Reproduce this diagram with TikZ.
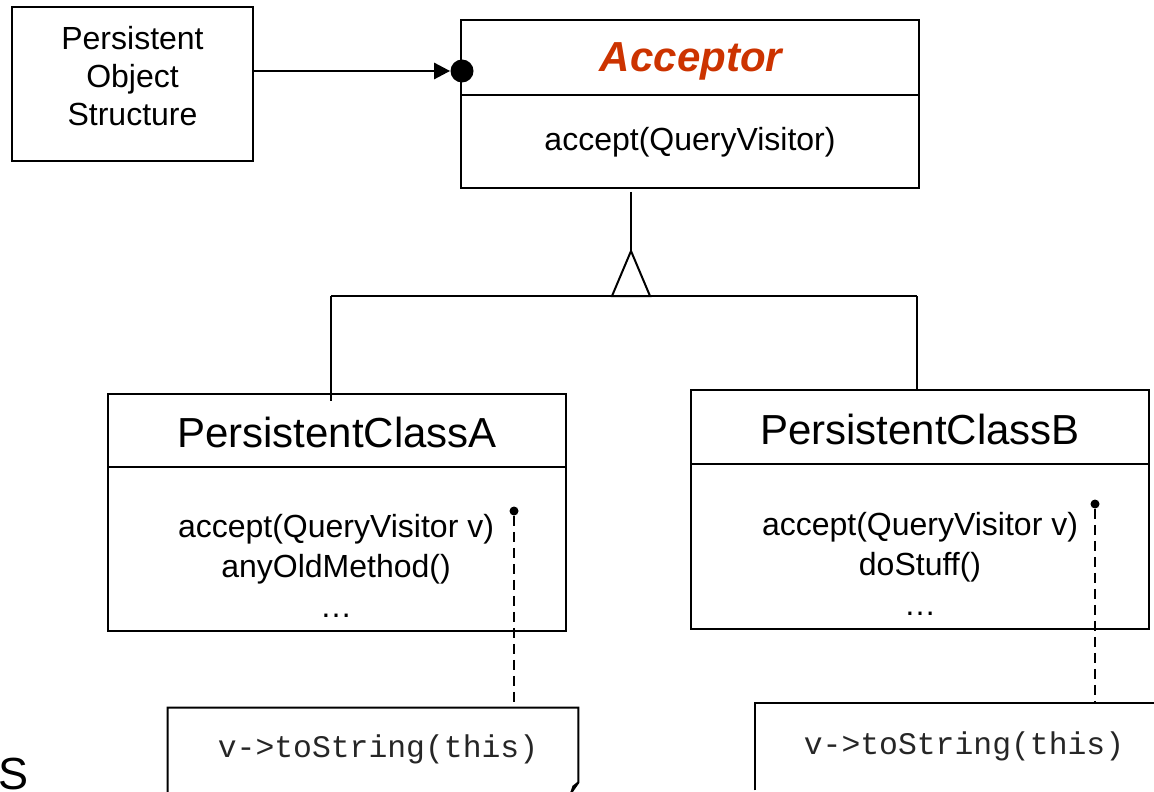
\documentclass[tikz,border=0pt]{standalone}
\usepackage{fontspec}
\setmainfont{Liberation Sans}
\setmonofont{Liberation Mono}
\usetikzlibrary{calc,arrows.meta}
\definecolor{abstractred}{RGB}{204,51,0}
\tikzset{
	umlbox/.style={draw, line width=1pt, rectangle, inner sep=0pt},
	optext/.style={font=\fontsize{16}{20}\selectfont, align=center, inner sep=0pt},
	titletext/.style={font=\fontsize{21}{25}\selectfont, inner sep=0pt},
	codetext/.style={font=\ttfamily\fontsize{15.7}{19}\selectfont, inner sep=0pt, text=black!85},
	notedot/.style={circle, fill=black, inner sep=0pt, minimum size=4.5pt},
	anchordot/.style={circle, fill=black, inner sep=0pt, minimum size=11.5pt},
	notelink/.style={line width=1pt, dash pattern=on 5pt off 3pt}
}

\begin{document}
\begin{tikzpicture}[x=0.5pt, y=-0.5pt]
			%%%%% START %%%%%
			
			\clip (0, 0) rectangle (1154, 791);
			
			% client box
			\node[umlbox, minimum width=120.5pt, minimum height=77pt] (pos) at (132.5, 84) {};
			\node[optext, font=\fontsize{16}{19}\selectfont] (posText) at (132.5, 76) {Persistent\\Object\\Structure};
			
			% abstract class
			\node[umlbox, minimum width=229pt, minimum height=84pt] (acceptor) at (690, 104) {};
			\draw[line width=1pt] (acceptor.west |- 0, 95) -- (acceptor.east |- 0, 95);
			\node[titletext, font=\fontsize{21}{25}\selectfont\bfseries\itshape, text=abstractred] (accTitle) at (691, 61) {Acceptor};
			\node[optext] (accOps) at (690, 142) {accept(QueryVisitor)};
			
			\node[anchordot] (port) at (462, 71) {};
			\draw[line width=1.4pt, -{Triangle[length=8pt, width=8pt]}] (pos.east |- port) -- (port.west);
			
			% concrete classes
			\node[umlbox, minimum width=229pt, minimum height=118.5pt] (classA) at (337, 512.5) {};
			\draw[line width=1pt] (classA.west |- 0, 467) -- (classA.east |- 0, 467);
			\node[titletext] (classATitle) at (337, 432) {PersistentClassA};
			\node[optext] (classAOps) at (336, 566) {accept(QueryVisitor v)\\anyOldMethod()\\\dots};
			
			\node[umlbox, minimum width=229pt, minimum height=119.5pt] (classB) at (920, 509.5) {};
			\draw[line width=1pt] (classB.west |- 0, 464) -- (classB.east |- 0, 464);
			\node[titletext] (classBTitle) at (920, 429) {PersistentClassB};
			\node[optext] (classBOps) at (920, 564) {accept(QueryVisitor v)\\doStuff()\\\dots};
			
			% generalisation
			\coordinate (gen) at (631, 251);
			\coordinate (busA) at (331, 296);
			\coordinate (busB) at (917, 296);
			\draw[line width=1pt] (gen |- acceptor.south) ++(0, 3) -- (gen);
			\draw[line width=1pt, line join=miter] (gen) -- ++(-19, 45) -- ++(38, 0) -- cycle;
			\draw[line width=1pt] (busA) -- (busB);
			\draw[line width=1pt] (busA) -- ($(busA |- classA.north)+(0, 8)$);
			\draw[line width=1pt] (busB) -- (busB |- classB.north);
			
			% notes
			\node[minimum width=205pt, minimum height=42pt, inner sep=0pt] (noteA) at (373, 750) {};
			\node[codetext] (noteAText) at (378, 749) {v->toString(this)};
			\draw[line width=1pt] (noteA.south west) -- (noteA.north west) -- (noteA.north east) -- ($(noteA.south east)+(0, -10)$) -- ($(noteA.south east)+(-7, 0)$);
			\draw[line width=1pt] ($(noteA.south east)+(-7, 0)$) -- ($(noteA.south east)+(-5, -6)$) -- ($(noteA.south east)+(0, -10)$);
			
			\node[minimum width=210pt, minimum height=43.5pt, inner sep=0pt] (noteB) at (965, 746.5) {};
			\node[codetext] (noteBText) at (964, 746) {v->toString(this)};
			\draw[line width=1pt] (noteB.south west) -- (noteB.north west) -- (noteB.north east);
			
			\node[notedot] (dotA) at (514, 511) {};
			\draw[notelink] (dotA) -- (dotA |- noteA.north);
			\node[notedot] (dotB) at (1095, 504) {};
			\draw[notelink] (dotB) -- (dotB |- noteB.north);
			
			% cut-off slide text
			\node[anchor=base west, inner sep=0pt, font=\fontsize{22.5}{27}\selectfont] (slideText) at (-2, 789) {S};
			
			%%%%% END %%%%%
\end{tikzpicture}
\end{document}
